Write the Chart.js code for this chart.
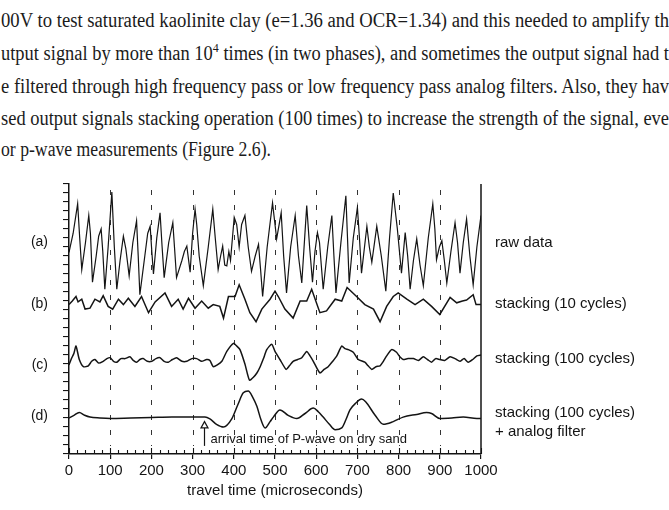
<!DOCTYPE html>
<html>
<head>
<meta charset="utf-8">
<script src="https://cdn.jsdelivr.net/npm/chart.js@4/dist/chart.umd.min.js"></script>
<style>
  html, body { margin: 0; padding: 0; background: #fff; }
  #page { position: relative; width: 669px; height: 510px; overflow: hidden; background: #fff; }
  .ln {
    position: absolute; left: 1px; white-space: nowrap;
    font-family: "Liberation Serif", "DejaVu Serif", serif; font-size: 20px; line-height: 20px;
    color: #1b1b1b; transform-origin: 0 0;
  }
  .sup { font-size: 13px; position: relative; top: -8px; }
  #chart { position: absolute; left: 0; top: 0; }
</style>
</head>
<body>
<div id="page">
  <div class="ln" data-w="668" style="top:10px">00V to test saturated kaolinite clay (e=1.36 and OCR=1.34) and this needed to amplify th</div>
  <div class="ln" data-w="668" style="top:43px">utput signal by more than 10<span class="sup">4</span> times (in two phases), and sometimes the output signal had t</div>
  <div class="ln" data-w="668" style="top:76px">e filtered through high frequency pass or low frequency pass analog filters. Also, they hav</div>
  <div class="ln" data-w="668" style="top:108px">sed output signals stacking operation (100 times) to increase the strength of the signal, eve</div>
  <div class="ln" data-w="270" style="top:139px">or p-wave measurements (Figure 2.6).</div>
  <canvas id="chart" width="669" height="510"></canvas>
</div>
<script>
// x axis tick labels (microseconds)
const xTickValues = [0, 100, 200, 300, 400, 500, 600, 700, 800, 900, 1000];
const panelTags = ["(a)", "(b)", "(c)", "(d)"];
const seriesLabels = ["raw data", "stacking (10 cycles)", "stacking (100 cycles)", "stacking (100 cycles)"];
const filterNote = "+ analog filter";
const arrivalText = "arrival time of P-wave on dry sand";
const arrivalTime = 328;

// (a) raw data
const rawT = [0, 10, 21, 26, 31, 40, 48, 52, 57, 66, 72, 78, 82, 87, 95, 104, 110, 116, 124, 132,
  138, 146, 155, 164, 168, 172, 184, 191, 197, 201, 205, 213, 221, 226, 231, 242, 252, 256, 261, 274,
  280, 286, 294, 300, 306, 310, 316, 326, 338, 349, 355, 362, 368, 373, 378, 383, 388, 392, 401, 407,
  413, 419, 427, 435, 443, 452, 460, 465, 470, 481, 494, 504, 515, 521, 528, 538, 549, 557, 565, 577,
  584, 591, 597, 603, 608, 617, 628, 638, 643, 648, 660, 672, 676, 680, 690, 700, 705, 710, 723, 729,
  735, 747, 758, 769, 778, 787, 797, 807, 816, 822, 828, 836, 844, 852, 860, 872, 883, 888, 892, 899,
  905, 911, 917, 927, 937, 943, 949, 957, 965, 973, 981, 990, 1000];
const rawV = [22.4, 24.5, 27.8, 24, 20.5, 23.5, 26.5, 24.5, 19.1, 22, 24.2, 25.0, 22.5, 18.3, 23, 29.1, 23, 18.3, 21.5, 24.2,
  22.8, 19.8, 23.5, 25.9, 22, 17.7, 22, 24.5, 25.3, 22.5, 20.0, 24, 26.8, 23, 19.6, 23.5, 25.7, 23, 19.6, 21.5,
  22.5, 23.1, 20.2, 24.5, 27.2, 25.5, 22, 18.7, 23, 27.2, 24, 20.5, 22, 23.1, 21, 20.9, 22.5, 21.5, 26.3, 25.5,
  23, 25.5, 26.5, 23, 20.3, 22, 23.3, 20.5, 17.5, 23, 27.9, 23.9, 26.8, 22, 17.9, 23, 26.5, 22, 19.0, 27.6,
  23, 19.1, 22.5, 24.6, 23.5, 18.3, 23, 26.5, 22, 17.9, 23.5, 28.7, 24, 19.0, 24, 27.4, 24, 20.1, 25.3, 23,
  21.3, 25.3, 22, 18.1, 24, 29.0, 25, 20.1, 24.6, 22, 18.3, 21.5, 23.9, 21, 18.7, 24, 27.8, 25, 21.6, 23,
  23.7, 21.5, 19.0, 22.5, 25.7, 23.5, 20.1, 23.5, 26.1, 22, 18.8, 23, 26.5];

// (b) stacking, 10 cycles
const stack10T = [0, 8, 17, 22, 31, 39, 51, 63, 75, 83, 95, 106, 120, 132, 144, 160, 176, 193, 209, 233,
  249, 265, 277, 290, 306, 322, 338, 350, 366, 375, 387, 403, 413, 427, 439, 454, 468, 488, 500, 508,
  524, 544, 561, 577, 589, 609, 625, 646, 662, 675, 698, 718, 739, 755, 771, 787, 799, 820, 840, 860,
  880, 900, 925, 941, 955, 965, 981, 988, 1000];
const stack10V = [16.6, 17.0, 17.5, 16.9, 17.2, 16.1, 16.2, 17.2, 16.9, 17.6, 16.4, 16.1, 17.2, 16.6, 17.3, 16.4, 17.5, 15.7, 16.9, 17.9,
  16.4, 17.2, 16.1, 17.3, 16.2, 17.0, 16.2, 16.6, 16.4, 15.1, 17.5, 17.5, 18.8, 17.2, 15.7, 14.7, 16.1, 17.2, 18.1, 17.5,
  16.1, 15.1, 17.0, 17.0, 18.3, 15.7, 15.9, 17.2, 17.0, 18.5, 17.5, 16.6, 16.1, 14.7, 16.4, 17.5, 17.9, 17.2, 16.6, 17.2,
  16.4, 15.5, 17.4, 16.8, 17.0, 17.1, 17.7, 16.6, 16.6];

// (c) stacking, 100 cycles
const stack100T = [0, 5, 12, 17, 25, 35, 47, 55, 63, 72, 83, 92, 100, 108, 116, 126, 136, 148, 156, 164,
  172, 180, 190, 201, 211, 221, 231, 241, 251, 261, 274, 286, 298, 310, 322, 334, 342, 350, 360, 371,
  383, 399, 407, 415, 427, 438, 447, 456, 464, 472, 480, 492, 500, 512, 527, 535, 544, 555, 565, 577,
  585, 593, 609, 619, 629, 640, 650, 662, 670, 678, 690, 702, 718, 726, 735, 745, 755, 763, 771, 783,
  795, 803, 811, 823, 836, 848, 860, 870, 880, 890, 900, 912, 925, 937, 949, 959, 969, 980, 990, 1000];
const stack100V = [9.9, 10.5, 11.2, 12.0, 10.5, 9.7, 9.8, 10.3, 10.5, 10.1, 10.3, 10.6, 10.7, 10.3, 10.2, 10.6, 10.6, 10.8, 10.4, 10.2,
  10.5, 10.6, 10.3, 10.3, 10.6, 10.7, 10.3, 10.2, 10.5, 10.7, 10.3, 10.3, 10.6, 10.6, 10.3, 10.5, 10.4, 9.7, 9.9, 10.3,
  11.4, 12.3, 12.0, 11.6, 10.0, 8.2, 8.5, 9.0, 9.7, 10.6, 11.6, 12.2, 11.4, 10.5, 9.4, 9.8, 10.3, 10.5, 10.7, 11.4,
  10.9, 10.3, 9.0, 9.4, 9.7, 10.3, 10.9, 12.0, 11.7, 11.6, 11.3, 10.5, 10.2, 9.8, 9.4, 9.7, 9.8, 10.3, 10.9, 11.6,
  11.3, 10.8, 10.5, 10.6, 10.6, 10.4, 10.8, 10.5, 10.2, 10.6, 10.5, 10.4, 10.8, 10.6, 10.3, 10.6, 10.2, 10.5, 10.9, 11.0];

// (d) stacking, 100 cycles + analog filter
const filterT = [0, 12, 25, 38, 51, 75, 100, 150, 200, 250, 300, 330, 342, 358, 375, 395, 410, 423, 435, 446,
  456, 466, 476, 488, 496, 512, 532, 553, 573, 593, 605, 617, 632, 646, 662, 672, 682, 697, 710, 720,
  743, 763, 787, 811, 844, 868, 880, 900, 929, 957, 990, 1000];
const filterV = [4.0, 4.3, 4.6, 4.3, 4.1, 4.0, 3.95, 4.0, 4.05, 4.1, 4.1, 4.1, 3.9, 3.3, 3.0, 3.9, 5.5, 6.8, 7.0, 6.3,
  5.3, 3.8, 2.9, 3.6, 4.1, 4.9, 4.3, 3.95, 4.5, 5.1, 4.7, 4.1, 3.3, 2.7, 2.9, 3.8, 4.9, 5.7, 6.1, 5.8,
  4.3, 3.3, 3.6, 4.1, 4.4, 4.6, 4.5, 3.95, 4.0, 4.1, 3.95, 3.95];

const ink = "#141414";
const sans = '"Liberation Sans", Arial, sans-serif';

// squeeze each paragraph line to the width seen in the scan
document.querySelectorAll(".ln").forEach((el) => {
  const w = el.getBoundingClientRect().width;
  el.style.transform = "scaleX(" + (parseFloat(el.dataset.w) / w) + ")";
});

function pts(ts, vs) {
  return ts.map((t, i) => ({ x: t, y: vs[i] }));
}

const decor = {
  id: "decor",
  beforeDatasetsDraw(chart) {
    const { ctx, chartArea: a, scales: { x } } = chart;
    ctx.save();
    ctx.strokeStyle = "#333";
    ctx.lineWidth = 1;
    ctx.setLineDash([5, 10]);
    xTickValues.slice(1, -1).forEach((v) => {
      const px = Math.round(x.getPixelForValue(v)) + 0.5;
      ctx.beginPath();
      ctx.moveTo(px, a.top + 6);
      ctx.lineTo(px, a.bottom - 8);
      ctx.stroke();
    });
    ctx.restore();
  },
  afterDatasetsDraw(chart) {
    const { ctx, chartArea: a, scales: { x, y } } = chart;
    ctx.save();
    ctx.strokeStyle = ink;
    ctx.fillStyle = ink;

    // right frame line
    ctx.lineWidth = 1.5;
    ctx.beginPath();
    ctx.moveTo(a.right, a.top);
    ctx.lineTo(a.right, a.bottom);
    ctx.stroke();

    // inward minor ticks on the time axis
    ctx.lineWidth = 1.1;
    for (let v = 0; v <= 1000; v += 20) {
      const px = Math.round(x.getPixelForValue(v)) + 0.5;
      const len = v % 100 === 0 ? 6 : 4;
      ctx.beginPath();
      ctx.moveTo(px, a.bottom);
      ctx.lineTo(px, a.bottom - len);
      ctx.stroke();
    }

    // panel tags on the left
    const levels = [23.5, 16.6, 9.9, 4.2];
    ctx.font = "14px " + sans;
    ctx.textAlign = "right";
    ctx.textBaseline = "middle";
    panelTags.forEach((t, i) => ctx.fillText(t, a.left - 21, y.getPixelForValue(levels[i])));

    // series names on the right
    const nameLevels = [23.5, 16.7, 10.6, 4.6];
    ctx.font = "15px " + sans;
    ctx.textAlign = "left";
    seriesLabels.forEach((t, i) => ctx.fillText(t, a.right + 14, y.getPixelForValue(nameLevels[i])));
    ctx.fillText(filterNote, a.right + 14, y.getPixelForValue(2.5));

    // arrival time arrow
    const ax = Math.round(x.getPixelForValue(arrivalTime)) + 0.5;
    const yTip = y.getPixelForValue(3.6);
    const yBase = y.getPixelForValue(2.9);
    const yEnd = y.getPixelForValue(0.9);
    ctx.lineWidth = 1.2;
    ctx.beginPath();
    ctx.moveTo(ax, yBase);
    ctx.lineTo(ax, yEnd);
    ctx.stroke();
    ctx.beginPath();
    ctx.moveTo(ax, yTip);
    ctx.lineTo(ax - 3.5, yBase);
    ctx.lineTo(ax + 3.5, yBase);
    ctx.closePath();
    ctx.fillStyle = "#fff";
    ctx.fill();
    ctx.stroke();
    ctx.fillStyle = ink;
    ctx.font = "13px " + sans;
    ctx.textAlign = "left";
    ctx.fillText(arrivalText, ax + 6, y.getPixelForValue(1.6));
    ctx.restore();
  },
};

function series(data, width, extra) {
  return Object.assign({
    data: data,
    borderColor: ink,
    borderWidth: width,
    pointRadius: 0,
    fill: false,
    tension: 0,
  }, extra || {});
}

new Chart(document.getElementById("chart").getContext("2d"), {
  type: "line",
  data: {
    datasets: [
      series(pts(rawT, rawV), 1.2),
      series(pts(stack10T, stack10V), 1.5),
      series(pts(stack100T, stack100V), 1.5, { tension: 0.2 }),
      series(pts(filterT, filterV), 1.5, { cubicInterpolationMode: "monotone" }),
    ],
  },
  options: {
    responsive: false,
    animation: false,
    layout: { padding: { left: 61, top: 184, right: 188, bottom: 0 } },
    plugins: { legend: { display: false }, tooltip: { enabled: false } },
    scales: {
      x: {
        type: "linear",
        min: 0,
        max: 1000,
        afterBuildTicks: (s) => {
          s.ticks = xTickValues.map((v) => ({ value: v }));
        },
        afterFit: (s) => {
          s.height = 56;
        },
        ticks: {
          font: { family: sans, size: 15 },
          color: ink,
          padding: 3,
          maxRotation: 0,
          autoSkip: false,
          callback: (v) => String(v),
        },
        grid: { drawOnChartArea: false, tickLength: 5, color: ink, lineWidth: 1.2 },
        border: { color: ink, width: 1.5 },
        title: {
          display: true,
          text: "travel time (microseconds)",
          font: { family: sans, size: 15 },
          color: ink,
          padding: { top: 0, bottom: 10 },
        },
      },
      y: {
        min: 0,
        max: 30,
        afterFit: (s) => {
          s.width = 8;
        },
        ticks: { display: false, stepSize: 1 },
        grid: { drawOnChartArea: false, tickLength: 6, color: ink, lineWidth: 1.1 },
        border: { color: ink, width: 1.5 },
      },
    },
  },
  plugins: [decor],
});
</script>
</body>
</html>
